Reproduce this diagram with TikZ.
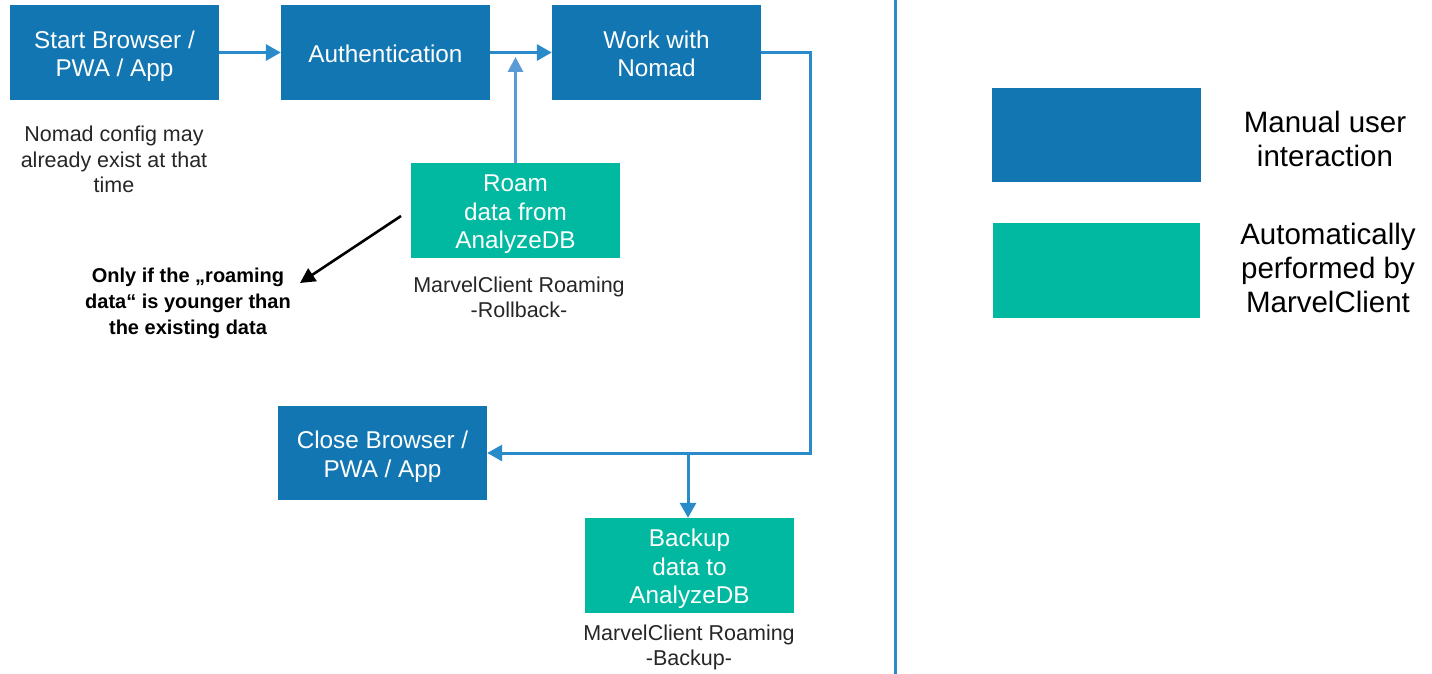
\documentclass[tikz,border=0pt]{standalone}
\usepackage{fontspec}
\setmainfont{Liberation Sans}
\usetikzlibrary{arrows.meta}
\definecolor{boxblue}{HTML}{1176B1}
\definecolor{boxteal}{HTML}{00B9A0}
\definecolor{lineblue}{HTML}{2A8BCB}
\definecolor{lightblue}{HTML}{5B9BD5}
\tikzset{
  box/.style={rectangle, inner sep=0pt, minimum width=209pt, minimum height=95pt,
    execute at begin node={\rule{0pt}{26.5pt}},
    execute at end node={\rule[-7pt]{0pt}{7pt}},
    text=white, align=center, font=\fontsize{24.3}{28.5}\selectfont},
  tallstrut/.style={execute at begin node={\rule{0pt}{#1}}},
  twolines/.style={tallstrut=55.5pt},
  threelines/.style={tallstrut=83.5pt},
  manual/.style={box, fill=boxblue},
  auto/.style={box, fill=boxteal},
  caption/.style={align=center, text=black!85, font=\fontsize{21.5}{25.5}\selectfont, inner sep=0pt},
  conn/.style={draw=lineblue, line width=3pt, -{Triangle[length=15pt,width=16pt]}},
  legtext/.style={align=center, text=black, font=\fontsize{29.5}{34}\selectfont, inner sep=0pt},
}
\begin{document}
\begin{tikzpicture}[x=1pt,y=-1pt]
\useasboundingbox (0,0) rectangle (1432,674);
% boxes
\node[manual, twolines] (start) at (114.5,52.5) {Start Browser /\\PWA / App};
\node[manual] (auth) at (385.5,52.5) {Authentication};
\node[manual, twolines] (work) at (656.5,52.5) {Work with\\Nomad};
\node[auto, threelines] (roam) at (515.5,210.5) {Roam\\data from\\AnalyzeDB};
\node[manual, twolines, minimum height=94pt] (close) at (382.5,453) {Close Browser /\\PWA / App};
\node[auto, threelines] (backup) at (689.5,565.5) {Backup\\data to\\AnalyzeDB};
% captions
\node[caption] (nomadcfg) at (114,159.5) {Nomad config may\\already exist at that\\time};
\node[caption] (rollback) at (519,297.5) {MarvelClient Roaming\\-Rollback-};
\node[caption] (backuplbl) at (689,647.5) {MarvelClient Roaming\\-Backup-};
\node[align=center, inner sep=0pt, font=\bfseries\fontsize{20}{26}\selectfont] (note) at (188,303)
  {Only if the „roaming\\data“ is younger than\\the existing data};
% connectors
\draw[conn] (start.east) -- (auth.west);
\draw[conn] (auth.east) -- (work.west);
\coordinate (rj) at (515.5,57);
\draw[draw=lightblue, line width=3pt, -{Triangle[length=15pt,width=15pt]}] (roam.north) -- (rj);
\coordinate (c1) at (810,453);
\draw[conn] (work.east) -| (c1) -- (close.east);
\coordinate (br) at (688,453);
\draw[conn] (br) -- (br |- backup.north);
\coordinate (a1) at (401,216);
\coordinate (a2) at (300,283);
\draw[draw=black, line width=2.6pt, -{Triangle[length=15pt,width=15pt]}] (a1) -- (a2);
% divider
\coordinate (d1) at (895,0);
\coordinate (d2) at (895,674);
\draw[draw=lineblue, line width=3pt] (d1) -- (d2);
% legend
\node[manual, minimum height=94pt] (leg1) at (1096.5,135) {};
\node[auto, minimum width=207pt] (leg2) at (1096.5,270.5) {};
\node[legtext] (leg1t) at (1325,139) {Manual user\\interaction};
\node[legtext] (leg2t) at (1328,268) {Automatically\\performed by\\MarvelClient};
\end{tikzpicture}
\end{document}
